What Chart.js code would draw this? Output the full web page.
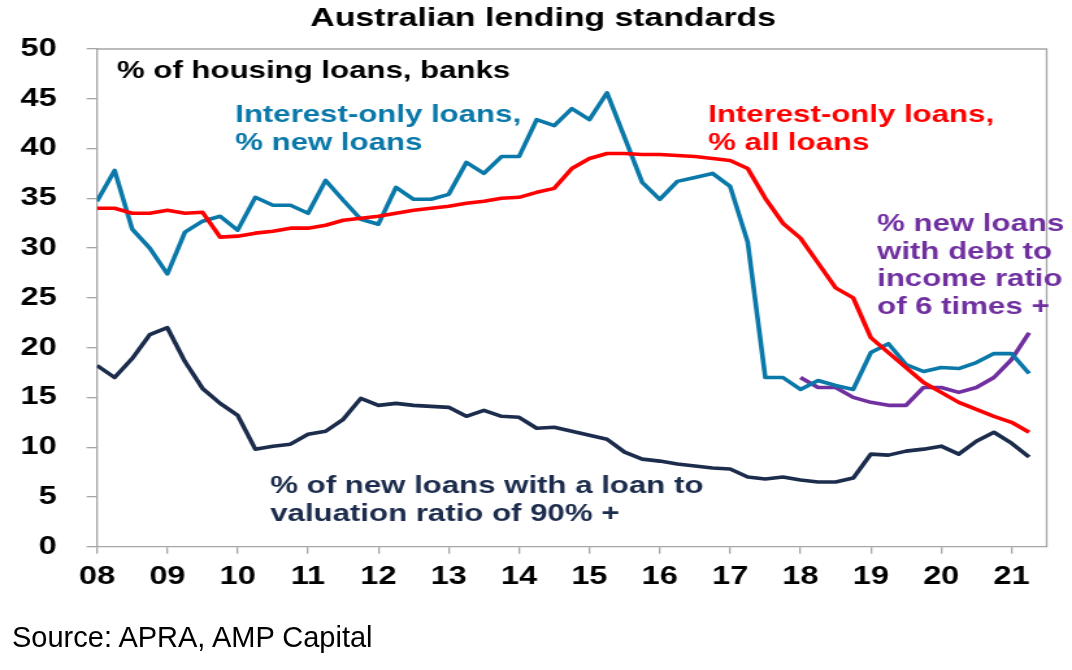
<!DOCTYPE html>
<html>
<head>
<meta charset="utf-8">
<title>Australian lending standards</title>
<script src="https://cdn.jsdelivr.net/npm/chart.js@4.4.0/dist/chart.umd.min.js"></script>
<style>
  html, body { margin: 0; padding: 0; background: #fff; }
  #wrap { position: relative; width: 1072px; height: 670px; overflow: hidden; }
  #chart { display: block; }
  #source {
    position: absolute; left: 12px; top: 623px;
    font: 29px/1 "Liberation Sans", Arial, sans-serif; color: #000; white-space: nowrap;
  }
</style>
</head>
<body>
<div id="wrap">
  <!-- drawn narrower and stretched sideways, like the original picture -->
  <canvas id="chart" width="825" height="670" style="width:1072px;height:670px"></canvas>
  <div id="source">Source: APRA, AMP Capital</div>
</div>
<script>
// quarterly data, first point = Q1 2008
const firstQuarter = 2008;
const yearTicks = [2008, 2009, 2010, 2011, 2012, 2013, 2014, 2015, 2016, 2017, 2018, 2019, 2020, 2021];
const valueTicks = [0, 5, 10, 15, 20, 25, 30, 35, 40, 45, 50];

// interest-only loans, % of new loans
const ioNewLoans = [
  34.7, 37.8, 31.9, 30.0, 27.4, 31.6, 32.7, 33.2, 31.8, 35.1,
  34.3, 34.3, 33.5, 36.8, 34.8, 32.9, 32.4, 36.1, 34.9, 34.9,
  35.4, 38.6, 37.5, 39.2, 39.2, 42.9, 42.3, 44.0, 42.9, 45.6,
  41.1, 36.6, 34.9, 36.7, 37.1, 37.5, 36.2, 30.6, 17.0, 17.0,
  15.8, 16.7, 16.2, 15.8, 19.5, 20.4, 18.3, 17.6, 18.0, 17.9,
  18.5, 19.4, 19.4, 17.4
];

// interest-only loans, % of all loans
const ioAllLoans = [
  34.0, 34.0, 33.5, 33.5, 33.8, 33.5, 33.6, 31.1, 31.2, 31.5,
  31.7, 32.0, 32.0, 32.3, 32.8, 33.0, 33.2, 33.5, 33.8, 34.0,
  34.2, 34.5, 34.7, 35.0, 35.1, 35.6, 36.0, 38.0, 39.0, 39.5,
  39.5, 39.4, 39.4, 39.3, 39.2, 39.0, 38.8, 38.0, 35.0, 32.5,
  31.0, 28.5, 26.0, 25.0, 21.0, 19.5, 18.0, 16.5, 15.5, 14.5,
  13.8, 13.1, 12.5, 11.5
];

// % of new loans with LVR of 90% +
const lvr90Loans = [
  18.2, 17.0, 18.9, 21.3, 22.0, 18.6, 15.9, 14.4, 13.2, 9.8,
  10.1, 10.3, 11.3, 11.6, 12.8, 14.9, 14.2, 14.4, 14.2, 14.1,
  14.0, 13.1, 13.7, 13.1, 13.0, 11.9, 12.0, 11.6, 11.2, 10.8,
  9.5, 8.8, 8.6, 8.3, 8.1, 7.9, 7.8, 7.0, 6.8, 7.0,
  6.7, 6.5, 6.5, 6.9, 9.3, 9.2, 9.6, 9.8, 10.1, 9.3,
  10.6, 11.5, 10.4, 9.0
];

// % of new loans with debt to income of 6x +, starts Q1 2018
const dtiFirstQuarter = 2018;
const dti6Loans = [17.0, 16.0, 16.0, 15.0, 14.5, 14.2, 14.2, 16.0, 16.0, 15.5, 16.0, 17.0, 18.8, 21.5];

const BLUE = '#0a78a8';
const RED = '#ff0000';
const NAVY = '#1c2c4c';
const PURPLE = '#7030a0';
const AXIS = '#a6a6a6';
const FONT = '"Liberation Sans", Arial, sans-serif';

function toPoints(values, start) {
  return values.map((v, i) => ({ x: start + i / 4, y: v }));
}

function lineSet(values, start, color) {
  return {
    data: toPoints(values, start),
    borderColor: color,
    borderWidth: 3.6,
    pointRadius: 0,
    tension: 0,
    borderJoinStyle: 'round',
    fill: false
  };
}

// text labels on the chart (canvas px)
const notes = [
  { lines: ['% of housing loans, banks'], x: 90, y: 78, color: '#000' },
  { lines: ['Interest-only loans,', '% new loans'], x: 181, y: 122, color: BLUE },
  { lines: ['Interest-only loans,', '% all loans'], x: 545, y: 122, color: RED },
  { lines: ['% new loans', 'with debt to', 'income ratio', 'of 6 times +'], x: 675, y: 231, color: PURPLE },
  { lines: ['% of new loans with a loan to', 'valuation ratio of 90% +'], x: 208, y: 493, color: NAVY }
];

const decorations = {
  id: 'decorations',
  afterDraw(chart) {
    const ctx = chart.ctx;
    const a = chart.chartArea;
    ctx.save();
    // top and right frame
    ctx.strokeStyle = AXIS;
    ctx.lineWidth = 1.3;
    ctx.beginPath();
    ctx.moveTo(a.left, a.top);
    ctx.lineTo(a.right, a.top);
    ctx.lineTo(a.right, a.bottom);
    ctx.stroke();

    ctx.fillStyle = '#000';
    ctx.font = 'bold 26px ' + FONT;
    ctx.textAlign = 'center';
    ctx.textBaseline = 'alphabetic';
    ctx.fillText('Australian lending standards', 418, 26);

    ctx.textAlign = 'left';
    ctx.font = 'bold 24px ' + FONT;
    notes.forEach(n => {
      ctx.fillStyle = n.color;
      n.lines.forEach((t, k) => ctx.fillText(t, n.x, n.y + k * 27.7));
    });
    ctx.restore();
  }
};

new Chart(document.getElementById('chart'), {
  type: 'line',
  data: {
    datasets: [
      lineSet(ioAllLoans, firstQuarter, RED),
      lineSet(ioNewLoans, firstQuarter, BLUE),
      lineSet(dti6Loans, dtiFirstQuarter, PURPLE),
      lineSet(lvr90Loans, firstQuarter, NAVY)
    ]
  },
  options: {
    responsive: false,
    animation: false,
    devicePixelRatio: 1,
    layout: { padding: { top: 49, right: 19.5, bottom: 0, left: 0 } },
    plugins: {
      legend: { display: false },
      tooltip: { enabled: false }
    },
    scales: {
      x: {
        type: 'linear',
        min: 2008,
        max: 2021.5,
        afterBuildTicks: s => { s.ticks = yearTicks.map(v => ({ value: v })); },
        afterFit: s => { s.height = 123.3; },
        grid: { drawOnChartArea: false, drawTicks: true, tickLength: 7, color: AXIS, lineWidth: 1.3 },
        border: { display: true, color: AXIS, width: 1.3 },
        ticks: {
          padding: 8,
          maxRotation: 0,
          autoSkip: false,
          color: '#000',
          font: { family: FONT, size: 25, weight: 'bold' },
          callback: v => String(v).slice(2)
        }
      },
      y: {
        min: 0,
        max: 50,
        afterBuildTicks: s => { s.ticks = valueTicks.map(v => ({ value: v })); },
        afterFit: s => { s.width = 74.65; },
        grid: { drawOnChartArea: false, drawTicks: true, tickLength: 8, color: AXIS, lineWidth: 1.3 },
        border: { display: true, color: AXIS, width: 1.3 },
        ticks: {
          padding: 23,
          color: '#000',
          font: { family: FONT, size: 25, weight: 'bold' }
        }
      }
    }
  },
  plugins: [decorations]
});
</script>
</body>
</html>
